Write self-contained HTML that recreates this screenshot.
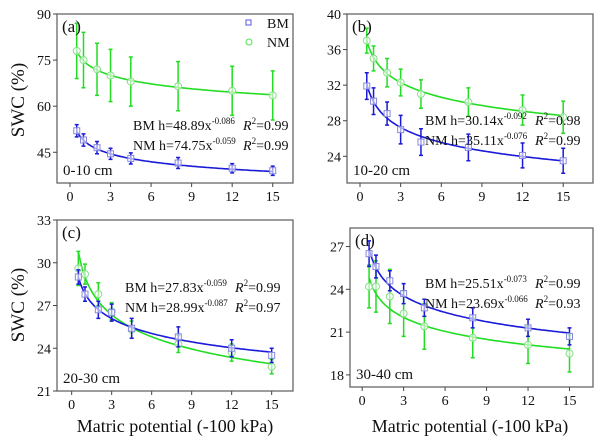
<!DOCTYPE html>
<html><head><meta charset="utf-8">
<style>
body{margin:0;background:#fff;}
svg{display:block;}
svg text{font-family:"Liberation Serif","DejaVu Serif",serif;}
</style></head>
<body>
<svg id="c" width="600" height="445" viewBox="0 0 600 445" font-family="Liberation Serif, DejaVu Serif, serif"></svg>
<script>
const xVals=[0.5,1,2,3,4.5,8,12,15];
const xTicks=[0,3,6,9,12,15];
const aBM=[52,49,46.5,44.5,43,41.5,39.8,39];
const aBMerr=[2,2,2,1.8,1.8,1.8,1.5,1.5];
const aNM=[78,75,72,70,68,66.5,65,63.5];
const aNMerr=[9,9,8.5,8.5,8,8,8,8];
const bBM=[31.9,30.2,28.8,27.0,25.6,25.0,24.1,23.5];
const bBMerr=[1.5,1.5,1.3,1.6,1.5,1.5,1.4,1.4];
const bNM=[37,35,33.4,32.3,31,30.1,29.2,28.4];
const bNMerr=[1.4,1.4,1.6,1.5,1.6,1.6,1.7,1.8];
const cBM=[29,27.8,26.7,26.5,25.4,24.8,24.0,23.5];
const cBMerr=[0.5,0.5,0.6,0.6,0.7,0.7,0.6,0.5];
const cNM=[29.6,29.2,27.8,26.6,25.3,24.3,23.7,22.7];
const cNMerr=[1.2,0.7,0.8,0.6,0.6,0.6,0.6,0.5];
const dBM=[26.5,25.6,24.6,23.7,22.7,22.0,21.3,20.7];
const dBMerr=[0.9,0.8,0.7,0.7,0.6,0.7,0.6,0.6];
const dNM=[24.2,24.2,23.5,22.3,21.4,20.6,20.1,19.5];
const dNMerr=[1.5,1.8,1.9,1.6,1.6,1.4,1.3,1.3];
const fitA=[48.89,74.75,30.14,35.11,27.83,28.99,25.51,23.69];
const fitB=[-0.086,-0.059,-0.092,-0.076,-0.059,-0.087,-0.073,-0.066];
const yTicksA=[45,60,75,90], yTicksB=[24,28,32,36,40], yTicksC=[21,24,27,30,33], yTicksD=[18,21,24,27];
const BLUE="#1a1ad8", GREEN="#22dd22";
const FONT="'Liberation Serif','DejaVu Serif',serif";
const svg=document.getElementById('c');
const NS="http://www.w3.org/2000/svg";
function mk(tag,at,parent){const e=document.createElementNS(NS,tag);for(const k in at)e.setAttribute(k,at[k]);if(tag==='text')e.setAttribute('font-family',FONT);(parent||svg).appendChild(e);return e;}
function panel(P){
  const g=mk('g',{});
  
  
  const sx=v=>P.x0+(v-P.xmin)/(P.xmax-P.xmin)*(P.x1-P.x0);
  const sy=v=>P.y1-(v-P.ymin)/(P.ymax-P.ymin)*(P.y1-P.y0);
  const box=mk('rect',{x:P.x0,y:P.y0,width:P.x1-P.x0,height:P.y1-P.y0,fill:'none',stroke:'#666','stroke-width':1.3},g);
  
  xTicks.forEach(t=>{
    mk('line',{x1:sx(t),x2:sx(t),y1:P.y1,y2:P.y1+4,stroke:'#444'},g);
    const tx=mk('text',{x:sx(t),y:P.y1+18,'text-anchor':'middle','font-size':14,fill:'#111'},g);tx.textContent=t;
    
  });
  P.yt.forEach(t=>{
    mk('line',{x1:P.x0-4,x2:P.x0,y1:sy(t),y2:sy(t),stroke:'#444'},g);
    const tx=mk('text',{x:P.x0-6,y:sy(t)+5,'text-anchor':'end','font-size':14,fill:'#111'},g);tx.textContent=t;
    
  });
  P.series.forEach(s=>{
    let d='';
    for(let i=0;i<=100;i++){const xv=0.5+14.5*i/100;d+=(i?'L':'M')+sx(xv).toFixed(1)+','+sy(s.fa*Math.pow(xv,s.fb)).toFixed(1);}
    const fl=mk('path',{d:d,fill:'none',stroke:s.col,'stroke-width':1.6},g);
    
    xVals.forEach((xv,i)=>{
      const X=sx(xv),Yt=sy(s.v[i]+s.e[i]),Yb=sy(s.v[i]-s.e[i]);
      const eb=mk('path',{d:`M${X},${Yt}L${X},${Yb}M${X-2},${Yt}L${X+2},${Yt}M${X-2},${Yb}L${X+2},${Yb}`,stroke:s.col,'stroke-width':1.5,fill:'none'},g);
      
      let m;
      if(s.key==='bm') m=mk('rect',{x:X-3,y:sy(s.v[i])-3,width:6,height:6,fill:'#fff','fill-opacity':0.6,stroke:'#8888dd','stroke-width':1},g);
      else m=mk('circle',{cx:X,cy:sy(s.v[i]),r:3.5,fill:'#fff','fill-opacity':0.6,stroke:'#88dd88','stroke-width':1},g);
      
    });
  });
  const lb=mk('text',{x:P.x0+5,y:P.y0+18,'font-size':17,fill:'#111'},g);lb.textContent=P.label;
  
  const dp=mk('text',{x:P.x0+6,y:P.y1-8,'font-size':15,fill:'#111'},g);dp.textContent=P.depth;
  
  P.eq.forEach((q,k)=>{
    const t=mk('text',{x:P.ex,y:P.ey+k*20,'font-size':14,fill:'#111'},g);
    t.innerHTML=`${q[0]} h=${q[1]}x<tspan dy="-6" font-size="9">${q[2]}</tspan><tspan dy="6"> </tspan><tspan x="${P.ex+110}" font-style="italic">R</tspan><tspan dy="-6" font-size="9">2</tspan><tspan dy="6">=${q[3]}</tspan>`;
    
  });
}
panel({name:'panel-a',label:'(a)',depth:'0-10 cm',x0:57,x1:293,y0:14,y1:183,xmin:-0.96,xmax:16.5,ymin:35,ymax:90,yt:yTicksA,ex:133,ey:130,
  series:[{key:'nm',col:GREEN,v:aNM,e:aNMerr,fa:fitA[1],fb:fitB[1]},{key:'bm',col:BLUE,v:aBM,e:aBMerr,fa:fitA[0],fb:fitB[0]}],
  eq:[['BM','48.89','-0.086','0.99'],['NM','74.75','-0.059','0.99']]});
panel({name:'panel-b',label:'(b)',depth:'10-20 cm',x0:347,x1:593,y0:14,y1:183,xmin:-0.96,xmax:17.2,ymin:21,ymax:40,yt:yTicksB,ex:425,ey:125,
  series:[{key:'nm',col:GREEN,v:bNM,e:bNMerr,fa:fitA[3],fb:fitB[3]},{key:'bm',col:BLUE,v:bBM,e:bBMerr,fa:fitA[2],fb:fitB[2]}],
  eq:[['BM','30.14','-0.092','0.98'],['NM','35.11','-0.076','0.99']]});
panel({name:'panel-c',label:'(c)',depth:'20-30 cm',x0:57,x1:293,y0:220,y1:391,xmin:-1.1,xmax:16.6,ymin:21,ymax:33,yt:yTicksC,ex:125,ey:292,
  series:[{key:'nm',col:GREEN,v:cNM,e:cNMerr,fa:fitA[5],fb:fitB[5]},{key:'bm',col:BLUE,v:cBM,e:cBMerr,fa:fitA[4],fb:fitB[4]}],
  eq:[['BM','27.83','-0.059','0.99'],['NM','28.99','-0.087','0.97']]});
panel({name:'panel-d',label:'(d)',depth:'30-40 cm',x0:350,x1:593,y0:228,y1:387,xmin:-0.88,xmax:16.7,ymin:17.15,ymax:28.3,yt:yTicksD,ex:425,ey:288,
  series:[{key:'nm',col:GREEN,v:dNM,e:dNMerr,fa:fitA[7],fb:fitB[7]},{key:'bm',col:BLUE,v:dBM,e:dBMerr,fa:fitA[6],fb:fitB[6]}],
  eq:[['BM','25.51','-0.073','0.99'],['NM','23.69','-0.066','0.93']]});
const lg=mk('g',{});
mk('rect',{x:246,y:20,width:5,height:5,fill:'none',stroke:'#5555dd'},lg);
mk('circle',{cx:249,cy:42,r:3,fill:'none',stroke:'#55dd55'},lg);
let t1=mk('text',{x:267,y:28,'font-size':14,fill:'#111'},lg);t1.textContent='BM';

let t2=mk('text',{x:267,y:47,'font-size':14,fill:'#111'},lg);t2.textContent='NM';

[[100,'y-axis-title-top'],[305,'y-axis-title-bottom']].forEach(([cy,n])=>{
  const t=mk('text',{x:0,y:0,transform:`translate(24,${cy}) rotate(-90)`,'text-anchor':'middle','font-size':19,fill:'#111'});t.textContent='SWC (%)';
  
});
[[175,'x-axis-title-left'],[470,'x-axis-title-right']].forEach(([cx,n])=>{
  const t=mk('text',{x:cx,y:432,'text-anchor':'middle','font-size':18,fill:'#111'});t.textContent='Matric potential (-100 kPa)';
  
});
</script>
</body></html>
